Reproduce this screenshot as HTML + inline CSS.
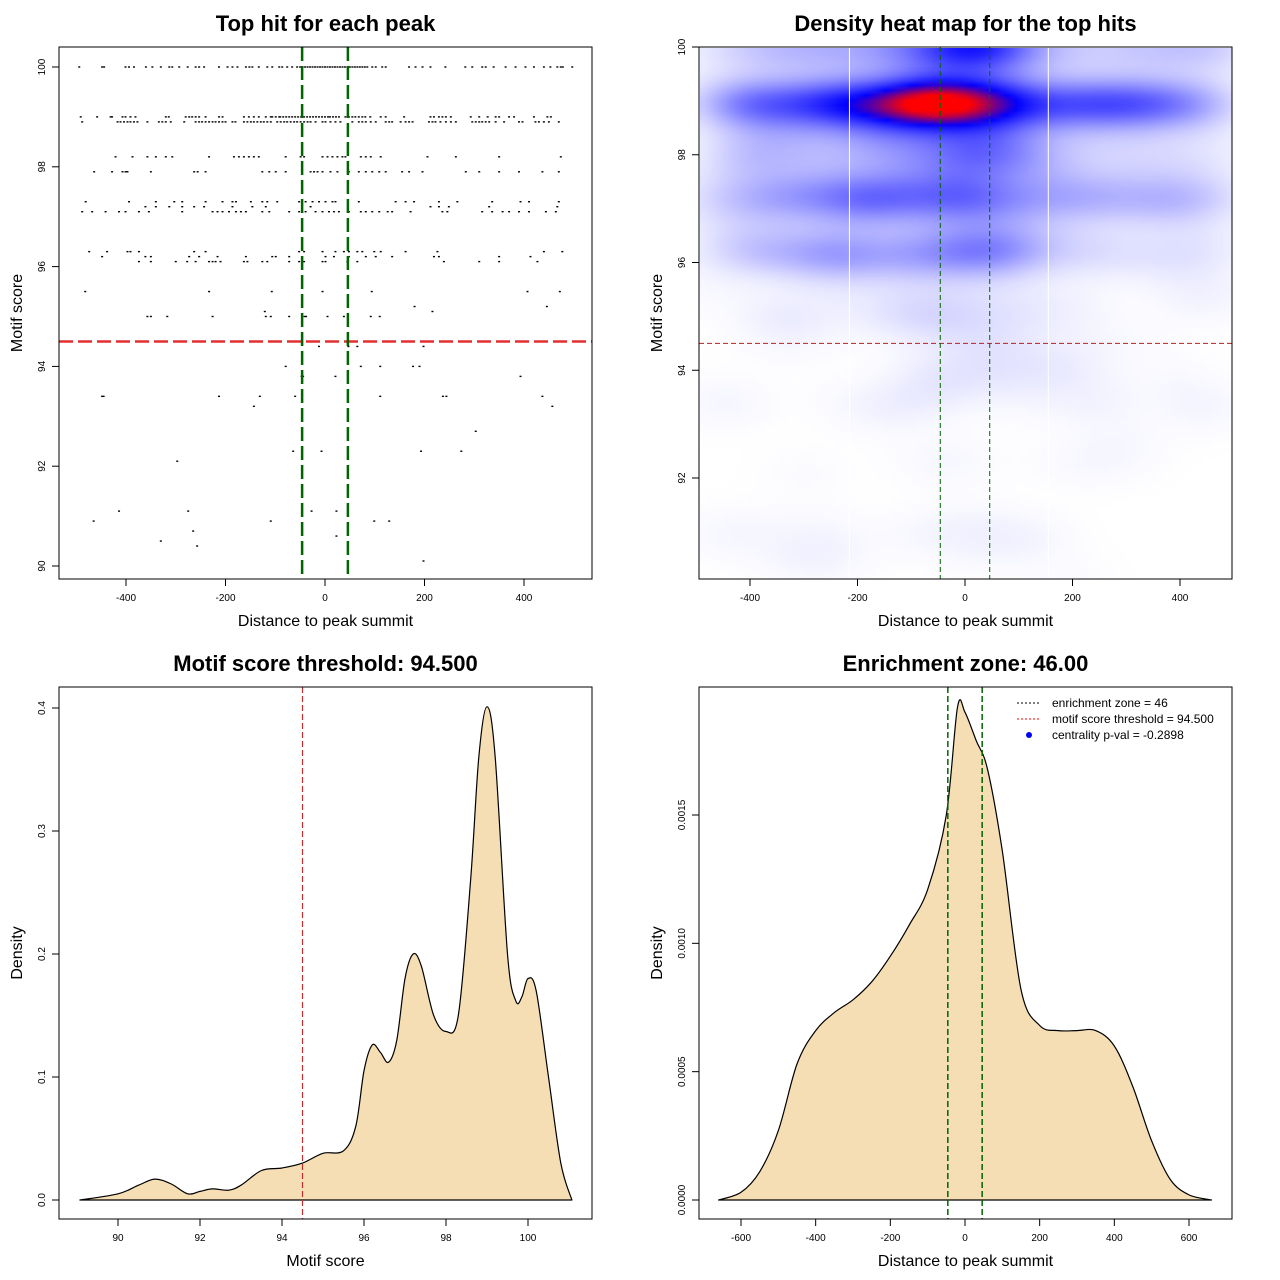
<!DOCTYPE html>
<html><head><meta charset="utf-8">
<style>
html,body{margin:0;padding:0;background:#fff;}
#wrap{position:relative;width:1280px;height:1280px;overflow:hidden;}
#heat{position:absolute;left:700px;top:48px;width:532px;height:531px;}
svg{position:absolute;left:0;top:0;}
text{font-family:"Liberation Sans",sans-serif;}
</style></head>
<body>
<div id="wrap">
<canvas id="heat" width="107" height="107"></canvas>
<svg id="s" width="1280" height="1280"></svg>
</div>
<script>
// ---------- data ----------
const rowScores = [100, 99.0, 98.9, 98.2, 97.9, 97.3, 97.2, 97.1, 96.3, 96.2, 96.1];
const rowXs = [
 [-494,-448,-444,-401,-394,-384,-360,-347,-330,-313,-307,-293,-276,-260,-253,-243,-213,-196,-186,-176,-159,-152,-146,-133,-116,-106,-92,-86,-76,-66,-56,-50,-45,-40,-35,-30,-25,-20,-15,-10,-5,0,5,10,15,20,25,30,35,40,45,50,55,60,65,70,75,80,85,95,102,115,122,169,182,196,212,242,282,296,316,323,339,363,383,403,420,440,453,467,474,478,497],
 [-491,-458,-431,-428,-407,-401,-391,-381,-320,-314,-280,-273,-267,-260,-253,-240,-213,-206,-163,-153,-143,-133,-119,-109,-106,-99,-92,-90,-84,-78,-72,-66,-60,-54,-48,-42,-36,-30,-24,-18,-12,-6,0,6,10,16,22,28,41,48,55,61,68,75,81,91,112,122,159,212,219,229,236,243,253,293,310,327,343,350,370,380,420,447,454],
 [-488,-417,-411,-404,-397,-391,-384,-377,-357,-334,-327,-320,-310,-283,-260,-253,-247,-240,-233,-226,-220,-213,-206,-200,-186,-180,-163,-156,-149,-143,-136,-129,-123,-116,-109,-96,-89,-82,-76,-69,-62,-56,-49,-42,-35,-29,-19,-5,1,11,21,31,55,68,75,82,92,102,122,129,135,152,162,169,176,209,216,222,232,243,253,263,296,303,310,316,323,330,343,360,390,397,423,430,440,450,470],
 [-421,-387,-357,-340,-320,-307,-233,-183,-173,-163,-153,-143,-133,-79,-49,-42,-5,5,15,25,35,41,72,82,92,112,206,263,350,474],
 [-464,-428,-407,-401,-397,-350,-263,-256,-240,-126,-112,-99,-79,-29,-22,-15,-5,11,25,48,68,82,95,109,122,155,169,196,283,310,350,390,437,470],
 [-481,-394,-340,-303,-287,-240,-206,-186,-179,-149,-126,-116,-96,-52,-39,-25,-12,1,15,21,68,142,162,179,229,266,336,393,410,470],
 [-361,-340,-313,-287,-263,-243,-186,-146,-119,-29,212,229,249,330,467],
 [-488,-468,-441,-414,-401,-374,-354,-287,-226,-216,-206,-193,-179,-169,-159,-126,-112,-72,-52,-39,-19,-5,8,18,28,48,72,82,95,109,126,135,172,236,246,316,336,357,370,390,410,444,464],
 [-474,-438,-397,-391,-374,-263,-240,-52,-42,-5,21,38,48,65,75,99,112,162,226,440,477],
 [-448,-361,-350,-273,-253,-216,-159,-106,-99,-72,1,18,48,82,102,135,219,229,350,413],
 [-374,-350,-300,-277,-260,-233,-226,-220,-210,-163,-156,-126,-116,-72,-52,-42,-5,1,45,65,239,310,350,427]
];
const sparseX = [-482,-233,-107,-5,94,407,472,180,446,-121,216,-357,-350,-317,-226,-119,-109,-72,-41,-38,5,38,92,110,-322,312,-12,47,65,198,-79,72,111,177,190,-47,-44,21,393,-448,-445,-213,-131,-60,111,237,244,437,-143,457,303,-64,-7,193,274,-297,-414,-275,-27,23,-465,-109,99,129,-265,23,-330,-257,198];
const sparseY = [95.5,95.5,95.5,95.5,95.5,95.5,95.5,95.2,95.2,95.1,95.1,95.0,95.0,95.0,95.0,95.0,95.0,95.0,95.0,95.0,95.0,95.0,95.0,95.0,94.5,94.5,94.4,94.4,94.4,94.4,94.0,94.0,94.0,94.0,94.0,93.8,93.8,93.8,93.8,93.4,93.4,93.4,93.4,93.4,93.4,93.4,93.4,93.4,93.2,93.2,92.7,92.3,92.3,92.3,92.3,92.1,91.1,91.1,91.1,91.1,90.9,90.9,90.9,90.9,90.7,90.6,90.5,90.4,90.1];

const scoreThreshold = 94.5;
const zone = 46;

// density of motif score (panel 3)
const dScoreX = [89.07,90,90.5,90.9,91.3,91.7,92,92.3,92.7,93,93.5,94,94.5,95,95.5,95.8,96,96.2,96.4,96.6,96.8,97,97.2,97.4,97.7,98,98.3,98.6,98.8,99,99.2,99.5,99.7,99.85,100,100.2,100.5,100.8,101.07];
const dScoreY = [0,0.005,0.012,0.017,0.013,0.005,0.007,0.009,0.008,0.012,0.024,0.026,0.03,0.038,0.04,0.06,0.105,0.126,0.12,0.112,0.13,0.18,0.2,0.19,0.15,0.137,0.15,0.26,0.36,0.401,0.36,0.2,0.162,0.165,0.18,0.17,0.1,0.03,0];

// density of distance (panel 4)
const dDistX = [-660,-600,-550,-500,-450,-400,-350,-300,-250,-200,-150,-100,-50,-20,0,30,60,100,150,200,250,300,350,400,450,500,550,600,660];
const dDistY = [0,0.00003,0.00011,0.00027,0.00053,0.00066,0.00073,0.00078,0.00085,0.00095,0.00107,0.00121,0.00150,0.00192,0.00190,0.00179,0.00168,0.00136,0.00082,0.00068,0.00066,0.00066,0.00066,0.00060,0.00044,0.00023,0.00008,0.00002,0];

// ---------- helpers ----------
const svg = document.getElementById('s');
const NS = 'http://www.w3.org/2000/svg';
function el(tag, attrs, parent){
  const e = document.createElementNS(NS, tag);
  for (const k in attrs) e.setAttribute(k, attrs[k]);
  (parent||svg).appendChild(e);
  return e;
}
function txt(str, x, y, size, opts, parent){
  const e = el('text', {x:x, y:y, 'font-size':size, 'text-anchor':(opts&&opts.anchor)||'middle'}, parent);
  if (opts && opts.bold) e.setAttribute('font-weight','bold');
  if (opts && opts.rot) e.setAttribute('transform','rotate(-90 '+x+' '+y+')');
  e.textContent = str;
  return e;
}
function lin(d0,d1,p0,p1){ return v => p0 + (v-d0)*(p1-p0)/(d1-d0); }
function smoothPath(P, baseY){
  let d = 'M'+P[0][0].toFixed(1)+','+baseY+' L'+P[0][0].toFixed(1)+','+P[0][1].toFixed(1);
  for (let i=0;i<P.length-1;i++){
    const p0=P[Math.max(0,i-1)], p1=P[i], p2=P[i+1], p3=P[Math.min(P.length-1,i+2)];
    const c1x=p1[0]+(p2[0]-p0[0])/6, c1y=p1[1]+(p2[1]-p0[1])/6;
    const c2x=p2[0]-(p3[0]-p1[0])/6, c2y=p2[1]-(p3[1]-p1[1])/6;
    d += ' C'+c1x.toFixed(1)+','+Math.min(baseY,c1y).toFixed(1)+' '+c2x.toFixed(1)+','+Math.min(baseY,c2y).toFixed(1)+' '+p2[0].toFixed(1)+','+p2[1].toFixed(1);
  }
  return d+' Z';
}

function panel(o){
  const g = el('g', {});
  
  
  const t = txt(o.title, (o.x0+o.x1)/2, o.y0-16, 22, {bold:true}, g);
  
  
  const xa = el('g', {}, g);
  
  
  const xt = o.xTicks;
  el('line', {x1:o.sx(xt[0]), x2:o.sx(xt[xt.length-1]), y1:o.y1, y2:o.y1, stroke:'#000'}, xa);
  xt.forEach((v,i) => {
    const px = o.sx(v);
    el('line', {x1:px, x2:px, y1:o.y1, y2:o.y1+7, stroke:'#000'}, xa);
    txt(o.xLabels[i], px, o.y1+22, 10, {}, xa);
  });
  const xtl = txt(o.xTitle, (o.x0+o.x1)/2, o.y1+47, 16, {}, g);
  
  
  const ya = el('g', {}, g);
  
  
  const yt = o.yTicks;
  el('line', {x1:o.x0, x2:o.x0, y1:o.sy(yt[0]), y2:o.sy(yt[yt.length-1]), stroke:'#000'}, ya);
  yt.forEach((v,i) => {
    const py = o.sy(v);
    el('line', {x1:o.x0-7, x2:o.x0, y1:py, y2:py, stroke:'#000'}, ya);
    txt(o.yLabels[i], o.x0-14, py, 10, {rot:true}, ya);
  });
  const ytl = txt(o.yTitle, o.x0-37, (o.y0+o.y1)/2, 16, {rot:true}, g);
  
  
  return g;
}
function box(o, g){
  el('rect', {x:o.x0, y:o.y0, width:o.x1-o.x0, height:o.y1-o.y0, fill:'none', stroke:'#000'}, g);
}

// ---------- panel 1: scatter ----------
const P1 = {name:'top-hit-scatter', title:'Top hit for each peak', x0:59, x1:592, y0:47, y1:579,
  sx: lin(0,400,325,524), sy: lin(90,100,566,67),
  xTicks:[-400,-200,0,200,400], xLabels:['-400','-200','0','200','400'],
  yTicks:[90,92,94,96,98,100], yLabels:['90','92','94','96','98','100'],
  xTitle:'Distance to peak summit', yTitle:'Motif score'};
const g1 = panel(P1);
const pts = el('g', {}, g1);


const allX = [], allY = [];
rowScores.forEach((sc,i) => rowXs[i].forEach(x => { allX.push(x); allY.push(sc); }));
sparseX.forEach((x,i) => { allX.push(x); allY.push(sparseY[i]); });
allX.forEach((x,i) => {
  el('rect', {x:P1.sx(x)-1, y:P1.sy(allY[i])-0.7, width:2, height:1.4, fill:'#000'}, pts);
});
let l;
l = el('line', {x1:P1.x0, x2:P1.x1, y1:P1.sy(scoreThreshold), y2:P1.sy(scoreThreshold), stroke:'#e03030', 'stroke-width':2.5, 'stroke-dasharray':'14,5'}, g1);


[-zone, zone].forEach(z => {
  const ln = el('line', {x1:P1.sx(z), x2:P1.sx(z), y1:P1.y0, y2:P1.y1, stroke:'#006400', 'stroke-width':2.5, 'stroke-dasharray':'14,5'}, g1);
  
  
});
box(P1, g1);

// ---------- panel 2: heat map ----------
const P2 = {name:'density-heatmap-panel', title:'Density heat map for the top hits', x0:699, x1:1232, y0:47, y1:579,
  sx: lin(0,400,965,1180), sy: lin(92,100,478,47),
  xTicks:[-400,-200,0,200,400], xLabels:['-400','-200','0','200','400'],
  yTicks:[92,94,96,98,100], yLabels:['92','94','96','98','100'],
  xTitle:'Distance to peak summit', yTitle:'Motif score'};
const g2 = panel(P2);
(function(){
  const c = document.getElementById('heat'), ctx = c.getContext('2d');
  const W = c.width, H = c.height;
  const img = ctx.createImageData(W, H);
  const hx = 65, hy = 0.36;
  const vals = new Float32Array(W*H); let mx = 0;
  for (let j=0;j<H;j++){
    const py = 48 + (j+0.5)*531/H;
    const sc = 92 + (478-py)*8/431;
    for (let i=0;i<W;i++){
      const px = 700 + (i+0.5)*532/W;
      const x = (px-965)*400/215;
      let d = 0;
      for (let k=0;k<allX.length;k++){
        const dx = (x-allX[k])/hx, dy = (sc-allY[k])/hy;
        const q = dx*dx+dy*dy;
        if (q<16) d += Math.exp(-0.5*q);
      }
      vals[j*W+i]=d; if(d>mx) mx=d;
    }
  }
  for (let p=0;p<W*H;p++){
    let t = Math.pow(vals[p]/mx, 1.25);
    let r,g,b;
    if (t<0.6){ const u=t/0.6; r=255*(1-u); g=255*(1-u); b=255; }
    else { const u=Math.min(1,(t-0.6)/0.3); r=255*u; g=0; b=255*(1-u); }
    img.data[p*4]=r; img.data[p*4+1]=g; img.data[p*4+2]=b; img.data[p*4+3]=255;
  }
  ctx.putImageData(img,0,0);
})();
[-215,155].forEach(v => {
  el('line', {x1:P2.sx(v), x2:P2.sx(v), y1:P2.y0, y2:P2.y1, stroke:'#fff', 'stroke-width':1}, g2);
});
l = el('line', {x1:P2.x0, x2:P2.x1, y1:P2.sy(scoreThreshold), y2:P2.sy(scoreThreshold), stroke:'#b22222', 'stroke-width':1, 'stroke-dasharray':'5,3'}, g2);


[-zone, zone].forEach(z => {
  const ln = el('line', {x1:P2.sx(z), x2:P2.sx(z), y1:P2.y0, y2:P2.y1, stroke:'#006400', 'stroke-width':1, 'stroke-dasharray':'5,3'}, g2);
  
  
});
box(P2, g2);

// ---------- panel 3: score density ----------
const P3 = {name:'score-density-panel', title:'Motif score threshold: 94.500', x0:59, x1:592, y0:687, y1:1219,
  sx: lin(90,100,118,528), sy: lin(0,0.4,1200,708),
  xTicks:[90,92,94,96,98,100], xLabels:['90','92','94','96','98','100'],
  yTicks:[0,0.1,0.2,0.3,0.4], yLabels:['0.0','0.1','0.2','0.3','0.4'],
  xTitle:'Motif score', yTitle:'Density'};
const g3 = panel(P3);
l = el('path', {d:smoothPath(dScoreX.map((x,i)=>[P3.sx(x), P3.sy(dScoreY[i])]), P3.sy(0)), fill:'#F5DEB3', stroke:'#000', 'stroke-width':1.2, 'stroke-linejoin':'round'}, g3);


l = el('line', {x1:P3.sx(scoreThreshold), x2:P3.sx(scoreThreshold), y1:P3.y0, y2:P3.y1, stroke:'#c03030', 'stroke-width':1.2, 'stroke-dasharray':'6,3'}, g3);


box(P3, g3);

// ---------- panel 4: distance density ----------
const P4 = {name:'enrichment-zone-panel', title:'Enrichment zone: 46.00', x0:699, x1:1232, y0:687, y1:1219,
  sx: lin(-600,600,741,1189), sy: lin(0,0.0015,1200,815),
  xTicks:[-600,-400,-200,0,200,400,600], xLabels:['-600','-400','-200','0','200','400','600'],
  yTicks:[0,0.0005,0.001,0.0015], yLabels:['0.0000','0.0005','0.0010','0.0015'],
  xTitle:'Distance to peak summit', yTitle:'Density'};
const g4 = panel(P4);
l = el('path', {d:smoothPath(dDistX.map((x,i)=>[P4.sx(x), P4.sy(dDistY[i])]), P4.sy(0)), fill:'#F5DEB3', stroke:'#000', 'stroke-width':1.2, 'stroke-linejoin':'round'}, g4);


[-zone, zone].forEach(z => {
  const ln = el('line', {x1:P4.sx(z), x2:P4.sx(z), y1:P4.y0, y2:P4.y1, stroke:'#006400', 'stroke-width':1.5, 'stroke-dasharray':'6,3'}, g4);
  
  
});
box(P4, g4);
const lg = el('g', {}, g4);


el('line', {x1:1017, x2:1041, y1:703, y2:703, stroke:'#000', 'stroke-dasharray':'2,2'}, lg);
txt('enrichment zone = 46', 1052, 707, 12, {anchor:'start'}, lg);
el('line', {x1:1017, x2:1041, y1:719, y2:719, stroke:'#ff0000', 'stroke-dasharray':'2,2'}, lg);
txt('motif score threshold = 94.500', 1052, 723, 12, {anchor:'start'}, lg);
el('circle', {cx:1029, cy:735, r:3, fill:'#0000ff'}, lg);
txt('centrality p-val = -0.2898', 1052, 739, 12, {anchor:'start'}, lg);
</script>
</body></html>
